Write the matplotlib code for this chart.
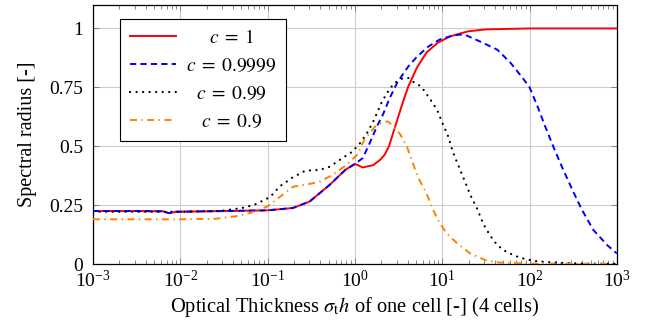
import numpy as np
import matplotlib
matplotlib.use("Agg")
import matplotlib.pyplot as plt
from matplotlib.ticker import FixedLocator, LogLocator, NullFormatter

plt.rcParams['font.family'] = ['Liberation Serif', 'DejaVu Serif']
plt.rcParams['mathtext.fontset'] = 'stix'
plt.rcParams['lines.scale_dashes'] = False

# spectral radius vs. optical thickness (log10 of sigma_t h)
logx_c1 = [-3.0, -2.5, -2.2, -2.13, -2.05, -1.5, -1.0, -0.71, -0.52, -0.29, -0.11,
           0.0, 0.09, 0.21, 0.29, 0.34, 0.39, 0.46, 0.54, 0.61, 0.71, 0.82, 0.95,
           1.09, 1.2, 1.3, 1.5, 2.0, 3.0]
rho_c1 = [0.225, 0.225, 0.224, 0.216, 0.222, 0.225, 0.228, 0.238, 0.265, 0.336, 0.40,
          0.425, 0.41, 0.42, 0.443, 0.464, 0.50, 0.583, 0.677, 0.753, 0.834, 0.898, 0.94,
          0.966, 0.978, 0.988, 0.996, 1.0, 1.0]

logx_c9999 = [-3.0, -2.5, -2.2, -2.13, -2.05, -1.5, -1.0, -0.71, -0.52, -0.29, -0.11,
              0.0, 0.09, 0.17, 0.25, 0.32, 0.40, 0.49, 0.61, 0.71, 0.84, 0.97, 1.12,
              1.2, 1.28, 1.43, 1.63, 1.78, 1.92, 2.0, 2.09, 2.18, 2.27, 2.37, 2.49,
              2.6, 2.73, 2.89, 3.0]
rho_c9999 = [0.225, 0.225, 0.224, 0.216, 0.222, 0.225, 0.228, 0.238, 0.265, 0.336, 0.40,
             0.425, 0.45, 0.514, 0.583, 0.634, 0.706, 0.774, 0.838, 0.88, 0.923, 0.953, 0.97,
             0.974, 0.97, 0.945, 0.91, 0.855, 0.79, 0.75, 0.67, 0.583, 0.5, 0.413, 0.315,
             0.23, 0.145, 0.08, 0.045]

logx_c99 = [-3.0, -2.5, -2.0, -1.56, -1.29, -1.13, -0.97, -0.86, -0.72, -0.57, -0.40,
            -0.29, -0.17, -0.03, 0.06, 0.14, 0.21, 0.31, 0.40, 0.46, 0.54, 0.61, 0.66,
            0.76, 0.85, 0.94, 1.0, 1.07, 1.12, 1.19, 1.26, 1.32, 1.40, 1.47, 1.55,
            1.63, 1.74, 1.89, 2.05, 2.3, 2.6, 3.0]
rho_c99 = [0.222, 0.222, 0.222, 0.225, 0.238, 0.255, 0.285, 0.33, 0.366, 0.396, 0.40,
           0.413, 0.443, 0.477, 0.514, 0.557, 0.605, 0.69, 0.745, 0.77, 0.787, 0.79, 0.775,
           0.753, 0.706, 0.655, 0.6, 0.54, 0.477, 0.413, 0.35, 0.294, 0.235, 0.17, 0.12,
           0.08, 0.05, 0.027, 0.013, 0.006, 0.002, 0.001]

logx_c9 = [-3.0, -2.5, -2.0, -1.6, -1.36, -1.2, -1.0, -0.86, -0.71, -0.52, -0.40,
           -0.25, -0.1, 0.03, 0.11, 0.23, 0.32, 0.38, 0.45, 0.52, 0.60, 0.72, 0.82,
           0.88, 0.95, 1.05, 1.18, 1.32, 1.49, 1.66, 2.0, 3.0]
rho_c9 = [0.19, 0.19, 0.19, 0.192, 0.203, 0.217, 0.245, 0.285, 0.328, 0.34, 0.35,
          0.38, 0.42, 0.465, 0.53, 0.583, 0.603, 0.605, 0.58, 0.55, 0.494, 0.37, 0.30,
          0.243, 0.187, 0.13, 0.085, 0.045, 0.017, 0.006, 0.002, 0.001]

labels = [r'$c\;=\;1$', r'$c\;=\;0.9999$', r'$c\;=\;0.99$', r'$c\;=\;0.9$']

fig = plt.figure(figsize=(6.48, 3.26), dpi=100)
ax = fig.add_axes([0.1435, 0.19, 0.8085, 0.795])

lw = 1.4
ax.plot(10 ** np.array(logx_c1), rho_c1, color=(1, 0, 0), lw=lw, label=labels[0], zorder=3)
ax.plot(10 ** np.array(logx_c9999), rho_c9999, color=(0, 0, 1), lw=lw,
        linestyle=(0, (4.5, 3.0)), label=labels[1], zorder=4)
ax.plot(10 ** np.array(logx_c99), rho_c99, color='k', lw=1.6,
        linestyle=(0, (0.1, 4.6)), dash_capstyle='round', label=labels[2], zorder=4)
ax.plot(10 ** np.array(logx_c9), rho_c9, color=(1, 0.5, 0), lw=lw,
        linestyle=(0, (5.0, 3.2, 1.0, 3.2)), label=labels[3], zorder=4)

ax.set_xscale('log')
ax.set_xlim(1e-3, 1e3)
ax.set_ylim(0, 1.1)
ax.yaxis.set_major_locator(FixedLocator([0, 0.25, 0.5, 0.75, 1.0]))
ax.set_yticklabels(['0', '0.25', '0.5', '0.75', '1'])
ax.xaxis.set_major_locator(FixedLocator(10.0 ** np.arange(-3, 4)))
ax.xaxis.set_minor_locator(LogLocator(base=10, subs=np.arange(2, 10), numticks=20))
ax.xaxis.set_minor_formatter(NullFormatter())

ax.grid(True, which='major', color='0.8', lw=0.8)
ax.tick_params(which='both', direction='in', top=True, right=True, labelsize=14,
               color='0.45', width=0.6)
ax.tick_params(axis='y', which='major', length=4.5, pad=7)
ax.tick_params(axis='x', which='major', length=4.5, pad=4)
ax.tick_params(which='minor', length=3)
for s in ax.spines.values():
    s.set_linewidth(0.9)

ax.set_xlabel(r'Optical Thickness $\sigma_{\mathrm{t}}h$ of one cell [-] (4 cells)',
              fontsize=14.8, labelpad=3)
ax.set_ylabel('Spectral radius [-]', fontsize=14.5, labelpad=9)

leg = ax.legend(loc='upper left', bbox_to_anchor=(0.0515, 0.946), borderaxespad=0,
                fontsize=14, fancybox=False, framealpha=1, edgecolor='k',
                handlelength=2.4, handletextpad=0.5, labelspacing=0.52, borderpad=0.5)
leg.get_frame().set_linewidth(0.8)

# center the legend entries in their column
fig.canvas.draw()
texts = leg.get_texts()
widths = [t.get_window_extent().width for t in texts]
wmax = max(widths)
for t, w in zip(texts, widths):
    t.set_x((wmax - w) / 2)

fig.savefig('out.png', dpi=100)
